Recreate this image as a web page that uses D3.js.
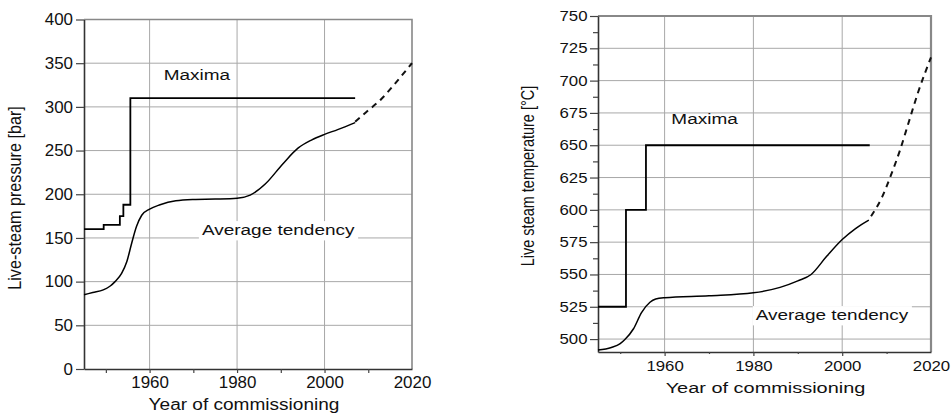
<!DOCTYPE html>
<html>
<head>
<meta charset="utf-8">
<script src="https://cdn.jsdelivr.net/npm/d3@7"></script>
<style>
body { margin: 0; background: #fff; }
svg { display: block; font-family: "Liberation Sans", Arial, sans-serif; }
</style>
</head>
<body>
<svg id="chart" width="952" height="414"></svg>
<script>
// tick labels
const yearTicks = [1960, 1980, 2000, 2020];
const yearMinorTicks = [1950, 1970, 1990, 2010];
const pressureTicks = [0, 50, 100, 150, 200, 250, 300, 350, 400];
const temperatureTicks = [500, 525, 550, 575, 600, 625, 650, 675, 700, 725, 750];
const temperatureMinorTicks = [512.5, 537.5, 562.5, 587.5, 612.5, 637.5, 662.5, 687.5, 712.5, 737.5];

// live-steam pressure [bar]
const pressureMaxYears = [1945, 1949.5, 1953.2, 1954, 1955.6, 2007];
const pressureMaxValues = [160, 165, 175, 188, 310, 310];
const pressureAvgYears = [1945, 1947, 1949.4, 1951, 1952.1, 1953.6, 1954.8, 1955.9, 1957, 1958.2, 1960, 1962.4, 1966, 1970, 1975, 1980, 1983, 1986.5, 1990.5, 1994, 1997, 2000, 2003, 2007];
const pressureAvgValues = [85, 87.5, 90.5, 95, 100, 109.5, 123, 144, 163, 176, 183, 188, 192.5, 194, 194.5, 195.5, 199, 212, 235, 253, 262, 268.5, 274, 282];
const pressureTrendYears = [2007, 2010, 2013, 2016, 2020];
const pressureTrendValues = [283, 296, 309, 326, 350];

// live steam temperature [°C]
const tempMaxYears = [1945, 1951.3, 1955.8, 2006.2];
const tempMaxValues = [525, 600, 650, 650];
const tempAvgYears = [1945, 1948, 1950, 1951, 1953, 1954.8, 1956.7, 1958, 1960, 1970, 1980, 1986, 1990, 1993, 1996.5, 2000, 2003, 2006];
const tempAvgValues = [491.5, 493.5, 496.5, 499.5, 508, 520.5, 528.5, 531, 532, 533.5, 535.8, 540, 545, 550, 564, 577, 585.5, 592];
const tempTrendYears = [2006.5, 2009, 2011, 2013, 2015, 2017, 2020];
const tempTrendValues = [595, 610, 627, 646, 668, 690, 718];

const svg = d3.select("#chart");
const gridColor = "#a8a8a8";
const inkColor = "#111";

function stretchText(sel, sx) {
    sel.each(function () {
        const t = d3.select(this);
        const x = +t.attr("x") || 0;
        t.attr("x", x / sx).attr("transform", `scale(${sx},1)`);
    });
}

function drawPanel(p) {
    const g = svg.append("g");
    const x = d3.scaleLinear().domain([1945, 2020]).range([p.left, p.right]);
    const y = d3.scaleLinear().domain(p.yDomain).range([p.bottom, p.top]);

    // grid
    g.append("g").selectAll("line")
        .data(yearTicks.filter(d => d < 2020))
        .join("line")
        .attr("x1", d => x(d)).attr("x2", d => x(d))
        .attr("y1", p.top).attr("y2", p.bottom)
        .attr("stroke", gridColor).attr("stroke-width", 1);
    g.append("g").selectAll("line")
        .data(p.yTicks.filter(d => d > p.yDomain[0] && d < p.yDomain[1]))
        .join("line")
        .attr("x1", p.left).attr("x2", p.right)
        .attr("y1", d => y(d)).attr("y2", d => y(d))
        .attr("stroke", gridColor).attr("stroke-width", 1);

    // frame top / right
    g.append("path")
        .attr("d", `M${p.left},${p.top}H${p.right}V${p.bottom}`)
        .attr("fill", "none")
        .attr("stroke", "#888")
        .attr("stroke-width", p.frameWidth);

    // axes
    const xAxis = g.append("g")
        .attr("transform", `translate(0,${p.bottom})`)
        .call(d3.axisBottom(x).tickValues(yearTicks).tickFormat(d3.format("d"))
            .tickSize(p.xTickSize).tickPadding(p.xTickPadding).tickSizeOuter(0));
    g.append("g")
        .attr("transform", `translate(0,${p.bottom})`)
        .call(d3.axisBottom(x).tickValues(yearMinorTicks).tickFormat("")
            .tickSize(p.xMinorSize).tickSizeOuter(0))
        .call(a => a.select(".domain").remove());

    const yAxis = g.append("g")
        .attr("transform", `translate(${p.left},0)`)
        .call(d3.axisLeft(y).tickValues(p.yTicks)
            .tickSize(8).tickPadding(p.yTickPadding).tickSizeOuter(0));
    if (p.yMinor) {
        g.append("g")
            .attr("transform", `translate(${p.left},0)`)
            .call(d3.axisLeft(y).tickValues(p.yMinor).tickFormat("").tickSize(5).tickSizeOuter(0))
            .call(a => a.select(".domain").remove());
    }

    g.selectAll(".domain").attr("stroke", "#333").attr("stroke-width", 1.6);
    g.selectAll(".tick line").attr("stroke", "#444").attr("stroke-width", 1.2);
    xAxis.selectAll(".tick line").filter(d => d === 2020).remove();
    [xAxis, yAxis].forEach(a => a.selectAll("text")
        .attr("font-family", "Liberation Sans, Arial, sans-serif")
        .attr("font-size", p.tickFont)
        .attr("fill", inkColor)
        .call(stretchText, p.tickStretch));

    // series
    const line = d3.line().x(d => x(d[0])).y(d => y(d[1]));
    g.append("path")
        .datum(d3.zip(p.maxYears, p.maxValues))
        .attr("d", line.curve(d3.curveStepAfter))
        .attr("fill", "none").attr("stroke", "#000").attr("stroke-width", 1.8);
    g.append("path")
        .datum(d3.zip(p.avgYears, p.avgValues))
        .attr("d", line.curve(d3.curveMonotoneX))
        .attr("fill", "none").attr("stroke", "#000").attr("stroke-width", 1.5);
    g.append("path")
        .datum(d3.zip(p.trendYears, p.trendValues))
        .attr("d", line.curve(d3.curveMonotoneX))
        .attr("fill", "none").attr("stroke", "#111").attr("stroke-width", 2)
        .attr("stroke-dasharray", "6,5");

    // annotations
    p.notes.forEach(n => {
        const ng = g.append("g")
            .attr("transform", `translate(${x(n.year)},${y(n.value)})`);
        const t = ng.append("text")
            .attr("text-anchor", "middle")
            .attr("font-size", 14.5)
            .attr("fill", inkColor)
            .attr("transform", "scale(1.31,1)")
            .text(n.text);
        if (n.box) {
            const b = t.node().getBBox();
            ng.insert("rect", "text")
                .attr("x", b.x * 1.31 - 3).attr("y", b.y - 1)
                .attr("width", b.width * 1.31 + 6).attr("height", b.height + 3)
                .attr("fill", "#fff");
        }
    });

    // axis titles
    svg.append("text")
        .attr("transform", `translate(${p.xTitle[0]},${p.xTitle[1]}) scale(${p.xTitleStretch},1)`)
        .attr("text-anchor", "middle")
        .attr("font-size", p.xTitleFont)
        .attr("fill", inkColor)
        .text("Year of commissioning");
    svg.append("text")
        .attr("transform", `translate(${p.yTitle[0]},${p.yTitle[1]}) rotate(-90) scale(1,${p.yTitleStretch})`)
        .attr("text-anchor", "middle")
        .attr("font-size", p.yTitleFont)
        .attr("fill", inkColor)
        .text(p.yLabel);
}

drawPanel({
    left: 84, right: 412, top: 19.5, bottom: 369,
    yDomain: [0, 400], yTicks: pressureTicks, yMinor: null,
    xTickSize: 4, xTickPadding: 4, xMinorSize: 4, yTickPadding: 3,
    tickFont: 16, tickStretch: 1.06, frameWidth: 1.6,
    maxYears: pressureMaxYears, maxValues: pressureMaxValues,
    avgYears: pressureAvgYears, avgValues: pressureAvgValues,
    trendYears: pressureTrendYears, trendValues: pressureTrendValues,
    notes: [
        {text: "Maxima", year: 1970.8, value: 330.8, box: false},
        {text: "Average tendency", year: 1989.4, value: 153.4, box: true}
    ],
    xTitle: [244, 410], xTitleFont: 16, xTitleStretch: 1.19,
    yTitle: [21, 198], yTitleFont: 16.2, yTitleStretch: 1.12,
    yLabel: "Live-steam pressure [bar]"
});

drawPanel({
    left: 598, right: 931, top: 16, bottom: 352,
    yDomain: [490, 750], yTicks: temperatureTicks, yMinor: temperatureMinorTicks,
    xTickSize: 4, xTickPadding: 5, xMinorSize: 2, yTickPadding: 2.5,
    tickFont: 14, tickStretch: 1.2, frameWidth: 2.2,
    maxYears: tempMaxYears, maxValues: tempMaxValues,
    avgYears: tempAvgYears, avgValues: tempAvgValues,
    trendYears: tempTrendYears, trendValues: tempTrendValues,
    notes: [
        {text: "Maxima", year: 1969.0, value: 666.2, box: false},
        {text: "Average tendency", year: 1997.7, value: 514.8, box: true}
    ],
    xTitle: [765.5, 393.3], xTitleFont: 15, xTitleStretch: 1.33,
    yTitle: [534, 176], yTitleFont: 14.5, yTitleStretch: 1.3,
    yLabel: "Live steam temperature [°C]"
});
</script>
</body>
</html>
